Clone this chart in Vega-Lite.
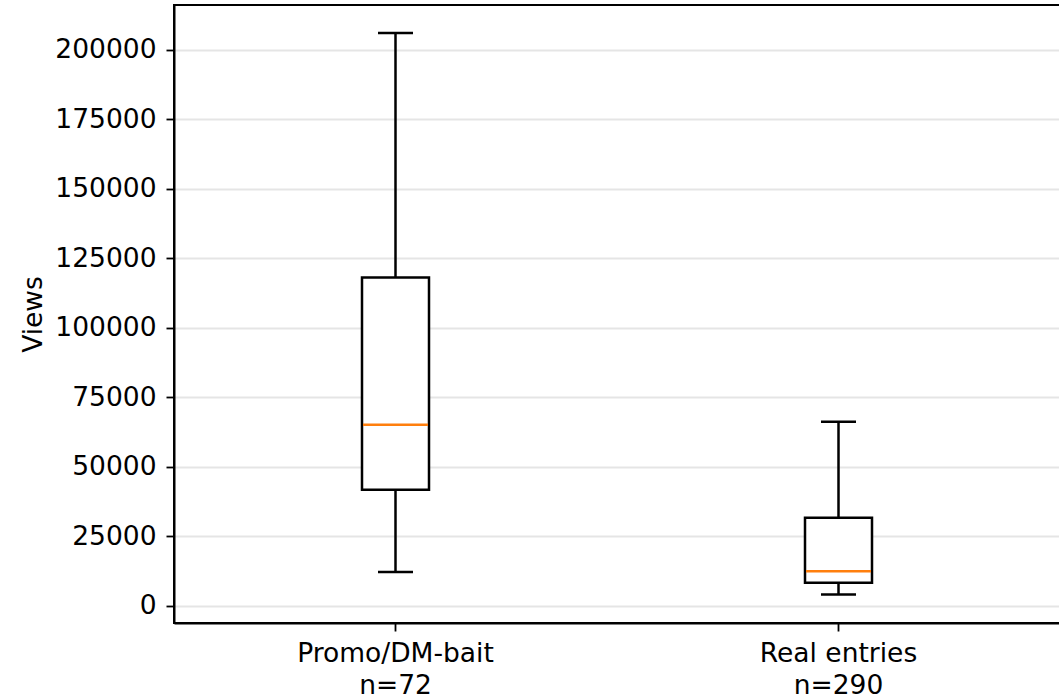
{
  "$schema": "https://vega.github.io/schema/vega-lite/v6.json",
  "width": 886,
  "height": 618,
  "autosize": {"type": "none"},
  "padding": {"left": 174, "top": 5, "right": 0, "bottom": 76},
  "background": "white",
  "config": {
    "view": {"stroke": "black", "strokeWidth": 2},
    "font": "DejaVu Sans"
  },
  "data": {
    "values": [
      {"group": "Promo/DM-bait", "n": 72, "whislo": 12100, "q1": 41700, "med": 65100, "q3": 118100, "whishi": 206100},
      {"group": "Real entries", "n": 290, "whislo": 4060, "q1": 8270, "med": 12350, "q3": 31650, "whishi": 66200}
    ]
  },
  "encoding": {
    "x": {
      "field": "group",
      "type": "nominal",
      "sort": null,
      "scale": {"type": "band", "paddingInner": 0, "paddingOuter": 0},
      "axis": {
        "title": null,
        "labelAngle": 0,
        "labelLimit": 0,
        "labelFont": "DejaVu Sans",
        "labelFontSize": 26.5,
        "labelColor": "black",
        "labelLineHeight": 32,
        "labelPadding": 9,
        "labelExpr": "[datum.label, datum.label == 'Promo/DM-bait' ? 'n=72' : 'n=290']",
        "tickColor": "black",
        "tickSize": 8,
        "tickWidth": 1.8,
        "domainColor": "black",
        "domainWidth": 2,
        "grid": false
      }
    }
  },
  "layer": [
    {
      "mark": {"type": "rule", "color": "black", "strokeWidth": 2.5},
      "encoding": {
        "y": {
          "field": "whislo",
          "type": "quantitative",
          "scale": {"domain": [-6230, 216180], "nice": false, "zero": false},
          "axis": {
            "title": "Views",
            "titleFont": "DejaVu Sans",
            "titleFontSize": 26.5,
            "titleFontWeight": "normal",
            "titleColor": "black",
            "titlePadding": 7,
            "values": [0, 25000, 50000, 75000, 100000, 125000, 150000, 175000, 200000],
            "format": "d",
            "labelFont": "DejaVu Sans",
            "labelFontSize": 26.5,
            "labelColor": "black",
            "labelPadding": 10,
            "labelLimit": 0,
            "tickColor": "black",
            "tickSize": 8,
            "tickWidth": 1.8,
            "domainColor": "black",
            "domainWidth": 2,
            "grid": true,
            "gridColor": "#e5e5e5",
            "gridWidth": 1.8
          }
        },
        "y2": {"field": "whishi"}
      }
    },
    {
      "mark": {"type": "tick", "color": "black", "opacity": 1, "size": 35, "thickness": 2.5, "orient": "horizontal"},
      "encoding": {"y": {"field": "whislo", "type": "quantitative"}}
    },
    {
      "mark": {"type": "tick", "color": "black", "opacity": 1, "size": 35, "thickness": 2.5, "orient": "horizontal"},
      "encoding": {"y": {"field": "whishi", "type": "quantitative"}}
    },
    {
      "mark": {"type": "bar", "fill": "white", "stroke": "black", "opacity": 1, "strokeWidth": 2.5, "size": 67},
      "encoding": {
        "y": {"field": "q1", "type": "quantitative"},
        "y2": {"field": "q3"}
      }
    },
    {
      "mark": {"type": "tick", "color": "#ff7f0e", "opacity": 1, "size": 65, "thickness": 2.5, "orient": "horizontal"},
      "encoding": {"y": {"field": "med", "type": "quantitative"}}
    }
  ]
}
